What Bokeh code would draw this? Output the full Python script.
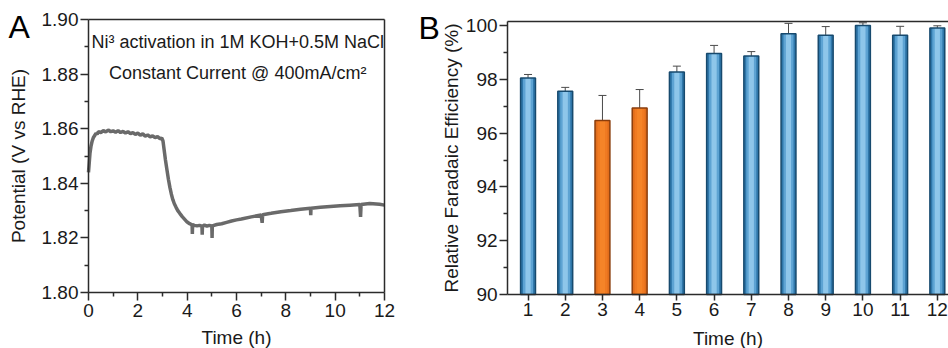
from bokeh.plotting import figure
from bokeh.models import (Range1d, LinearAxis, Label, Whisker, TeeHead, ColumnDataSource,
                          FixedTicker, PrintfTickFormatter)
from bokeh.layouts import row
from bokeh.embed import file_html
from bokeh.resources import INLINE

# ---------------- Panel A data: potential vs time ----------------
time_h = [0.00, 0.03, 0.06, 0.10, 0.15, 0.20, 0.25, 0.30, 0.35, 0.40, 0.50, 0.60, 0.70, 0.80,
          0.90, 1.00, 1.10, 1.20, 1.30, 1.40, 1.50, 1.60, 1.70, 1.80, 1.90, 2.00, 2.10, 2.20,
          2.30, 2.40, 2.50, 2.60, 2.70, 2.80, 2.90, 2.97, 3.02, 3.07, 3.12, 3.18, 3.24, 3.30,
          3.36, 3.42, 3.48, 3.55, 3.62, 3.70, 3.80, 3.90, 4.00, 4.10, 4.20, 4.21, 4.22, 4.30,
          4.40, 4.50, 4.60, 4.61, 4.62, 4.70, 4.80, 4.90, 5.00, 5.01, 5.02, 5.20, 5.40, 5.60,
          5.80, 6.00, 6.20, 6.60, 7.00, 7.04, 7.06, 7.40, 7.80, 8.20, 8.60, 9.00, 9.01, 9.02,
          9.40, 9.80, 10.20, 10.60, 11.00, 11.03, 11.05, 11.40, 11.80, 12.00]
potential = [1.8440, 1.8475, 1.8510, 1.8535, 1.8555, 1.8568, 1.8575, 1.8583, 1.8580, 1.8589,
             1.8586, 1.8593, 1.8588, 1.8595, 1.8589, 1.8592, 1.8587, 1.8593, 1.8586, 1.8590,
             1.8584, 1.8589, 1.8582, 1.8586, 1.8579, 1.8584, 1.8576, 1.8581, 1.8573, 1.8577,
             1.8570, 1.8574, 1.8567, 1.8571, 1.8563, 1.8566, 1.8555, 1.8520, 1.8485, 1.8450,
             1.8415, 1.8385, 1.8360, 1.8340, 1.8325, 1.8312, 1.8300, 1.8290, 1.8278, 1.8268,
             1.8258, 1.8252, 1.8248, 1.8214, 1.8248, 1.8246, 1.8244, 1.8246, 1.8243, 1.8212,
             1.8243, 1.8247, 1.8243, 1.8246, 1.8244, 1.8200, 1.8244, 1.8249, 1.8252, 1.8257,
             1.8262, 1.8266, 1.8269, 1.8277, 1.8284, 1.8255, 1.8285, 1.8290, 1.8296, 1.8300,
             1.8305, 1.8309, 1.8283, 1.8309, 1.8312, 1.8315, 1.8318, 1.8320, 1.8322, 1.8277,
             1.8322, 1.8326, 1.8323, 1.8320]
a_xticks = [0, 2, 4, 6, 8, 10, 12]
a_xminor = [1, 3, 5, 7, 9, 11]
a_yticks = [1.80, 1.82, 1.84, 1.86, 1.88, 1.90]
a_yminor = [1.81, 1.83, 1.85, 1.87, 1.89]

# ---------------- Panel B data: Faradaic efficiency ----------------
hours = [1, 2, 3, 4, 5, 6, 7, 8, 9, 10, 11, 12]
efficiency = [98.05, 97.56, 96.47, 96.93, 98.27, 98.96, 98.87, 99.69, 99.64, 100.0, 99.64, 99.91]
err = [0.13, 0.14, 0.93, 0.69, 0.22, 0.30, 0.16, 0.39, 0.32, 0.10, 0.33, 0.08]
highlight = [False, False, True, True, False, False, False, False, False, False, False, False]
b_yticks = [90, 92, 94, 96, 98, 100]
b_yminor = [91, 93, 95, 97, 99]

FONT = "Liberation Sans"
TXT = "#1a1a1a"
AX = "#2b2b2b"

# plot-area extents (axis box) and the extended drawing area around them
A_X = (0, 12)
A_Y = (1.80, 1.90)
A_XVIEW = (-3.5676, 12.811)
A_YVIEW = (1.779487, 1.90696)
B_X = (0.449, 12.30)
B_Y = (90, 100.15)
B_XVIEW = (-2.320, 12.30)
B_YVIEW = (87.9926, 100.93)


def style_axis(ax, label_standoff, tick_standoff, tick_out=8):
    ax.axis_line_color = AX
    ax.axis_line_width = 1.5
    ax.major_tick_line_color = AX
    ax.major_tick_line_width = 1.5
    ax.minor_tick_line_color = AX
    ax.minor_tick_line_width = 1.5
    ax.major_tick_in = 0
    ax.major_tick_out = tick_out
    ax.minor_tick_in = 0
    ax.minor_tick_out = 4
    ax.major_label_text_font = FONT
    ax.major_label_text_font_size = "19px"
    ax.major_label_text_color = TXT
    ax.axis_label_text_font = FONT
    ax.axis_label_text_font_size = "19px"
    ax.axis_label_text_font_style = "normal"
    ax.axis_label_text_color = TXT
    ax.axis_label_standoff = label_standoff
    ax.major_label_standoff = tick_standoff


def frame_line(loc, bounds):
    return LinearAxis(ticker=FixedTicker(ticks=[], minor_ticks=[]), fixed_location=loc,
                      bounds=bounds, axis_line_color=AX, axis_line_width=1.5,
                      major_tick_line_color=None, minor_tick_line_color=None,
                      major_tick_out=0, minor_tick_out=0, major_label_text_color=None)


# ---------------- Panel A ----------------
pA = figure(frame_width=404, frame_height=348, x_range=Range1d(*A_XVIEW), y_range=Range1d(*A_YVIEW),
            output_backend="svg", toolbar_location=None, x_axis_location=None, y_axis_location=None,
            min_border_left=0, min_border_right=0, min_border_top=0, min_border_bottom=0)
pA.grid.grid_line_color = None
pA.outline_line_color = None
pA.background_fill_color = "white"
pA.border_fill_color = "white"

pA.line(time_h, potential, line_color="#6a6a6a", line_width=3.5)

xa = LinearAxis(ticker=FixedTicker(ticks=a_xticks, minor_ticks=a_xminor), fixed_location=A_Y[0],
                bounds=A_X, axis_label="Time (h)")
style_axis(xa, 6, 4)
pA.add_layout(xa, "below")

ya = LinearAxis(ticker=FixedTicker(ticks=a_yticks, minor_ticks=a_yminor),
                formatter=PrintfTickFormatter(format="%.2f"), fixed_location=A_X[0],
                bounds=A_Y, axis_label="Potential (V vs RHE)")
style_axis(ya, 10, 2)
pA.add_layout(ya, "left")
pA.add_layout(frame_line(A_Y[1], A_X), "above")
pA.add_layout(frame_line(A_X[1], A_Y), "right")

pA.add_layout(Label(x=6.05, y=1.8916, text="Ni\u00b3 activation in 1M KOH+0.5M NaCl",
                    text_font=FONT, text_font_size="18px", text_color=TXT,
                    text_align="center", text_baseline="middle"))
pA.add_layout(Label(x=6.05, y=1.8803, text="Constant Current @ 400mA/cm\u00b2",
                    text_font=FONT, text_font_size="18px", text_color=TXT,
                    text_align="center", text_baseline="middle"))
pA.add_layout(Label(x=-3.24, y=1.8972, text="A", text_font=FONT, text_font_size="32px",
                    text_color="#000000", text_align="left", text_baseline="middle"))

# ---------------- Panel B ----------------
outer = ["#e06d1c" if h else "#2f77aa" for h in highlight]
mid = ["#f07a22" if h else "#5da3d3" for h in highlight]
inner = ["#f58428" if h else "#8ec6ea" for h in highlight]
edge = ["#8a3d0c" if h else "#174a6e" for h in highlight]
upper = [v + e for v, e in zip(efficiency, err)]
lower = [v - e for v, e in zip(efficiency, err)]

src = ColumnDataSource(dict(x=hours, top=efficiency, upper=upper, lower=lower,
                            outer=outer, mid=mid, inner=inner, edge=edge))

pB = figure(frame_width=544, frame_height=348, x_range=Range1d(*B_XVIEW), y_range=Range1d(*B_YVIEW),
            output_backend="svg", toolbar_location=None, x_axis_location=None, y_axis_location=None,
            min_border_left=0, min_border_right=0, min_border_top=0, min_border_bottom=0)
pB.grid.grid_line_color = None
pB.outline_line_color = None
pB.background_fill_color = "white"
pB.border_fill_color = "white"

pB.vbar(x="x", top="top", bottom=B_Y[0], width=0.40, source=src, fill_color="outer", line_color=None)
pB.vbar(x="x", top="top", bottom=B_Y[0], width=0.27, source=src, fill_color="mid", line_color=None)
pB.vbar(x="x", top="top", bottom=B_Y[0], width=0.14, source=src, fill_color="inner", line_color=None)
pB.vbar(x="x", top="top", bottom=B_Y[0], width=0.40, source=src, fill_color=None,
        line_color="edge", line_width=1.5)

pB.add_layout(Whisker(source=src, base="x", upper="upper", lower="lower",
                      line_color="#4a4a4a", line_width=1,
                      upper_head=TeeHead(size=8, line_color="#4a4a4a", line_width=1),
                      lower_head=TeeHead(size=8, line_color="#4a4a4a", line_width=1)))

xb = LinearAxis(ticker=FixedTicker(ticks=hours, minor_ticks=[]), fixed_location=B_Y[0],
                bounds=B_X, axis_label="Time (h)")
style_axis(xb, 9, 2, tick_out=6)
pB.add_layout(xb, "below")

yb = LinearAxis(ticker=FixedTicker(ticks=b_yticks, minor_ticks=b_yminor), fixed_location=B_X[0],
                bounds=B_Y, axis_label="Relative Faradaic Efficiency (%)")
style_axis(yb, 1, 2)
pB.add_layout(yb, "left")
pB.add_layout(frame_line(B_Y[1], B_X), "above")

pB.add_layout(Label(x=-1.943, y=99.926, text="B", text_font=FONT, text_font_size="32px",
                    text_color="#000000", text_align="left", text_baseline="middle"))

layout = row(pA, pB)
open("out.html", "w").write(file_html(layout, INLINE))
